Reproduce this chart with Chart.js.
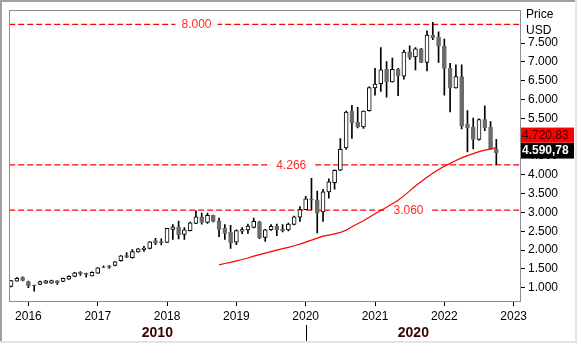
<!DOCTYPE html>
<html>
<head>
<meta charset="utf-8">
<script src="https://cdn.jsdelivr.net/npm/chart.js@4.4.1/dist/chart.umd.min.js"></script>
<style>
  html, body { margin: 0; padding: 0; background: #fff; }
  canvas { display: block; }
</style>
</head>
<body>
<canvas id="chart" width="577" height="343"></canvas>
<script>
// Monthly candles, first bar is October 2015
const firstYear = 2015;
const firstMonth = 10;

const opens = [1035, 1175, 1270, 1165, 1065, 1085, 1120, 1120, 1185, 1165, 1225, 1300, 1410, 1380, 1315, 1385, 1550, 1580, 1590, 1715,
  1855, 1795, 1950, 2010, 2040, 2250, 2225, 2205, 2550, 2620, 2415, 2515, 2705, 2885, 2735, 2920, 2770, 2575, 2470, 2210,
  2500, 2535, 2600, 2750, 2335, 2540, 2630, 2560, 2535, 2680, 2875, 3075, 3360, 3335, 3015, 3545, 3790, 4120, 4715, 5685,
  5395, 5270, 5705, 6310, 6420, 6805, 6470, 6805, 6620, 7270, 7130, 7350, 6990, 7715, 7670, 7420, 6830, 6310, 6610, 5340,
  5265, 4940, 5465, 5265, 4675];
const highs = [1195, 1265, 1285, 1175, 1070, 1175, 1195, 1200, 1190, 1255, 1315, 1405, 1430, 1385, 1420, 1535, 1580, 1590, 1695, 1850,
  1935, 2010, 2040, 2100, 2225, 2310, 2295, 2580, 2680, 2770, 2600, 2745, 3045, 2980, 2980, 2930, 2850, 2680, 2655, 2535,
  2595, 2690, 2850, 2760, 2550, 2680, 2690, 2680, 2720, 2900, 3155, 3430, 3905, 3570, 3615, 3890, 4130, 4965, 5695, 5845,
  5790, 5700, 6340, 6830, 7380, 7010, 7105, 6830, 7315, 7430, 7380, 7360, 7825, 8050, 7800, 7610, 6965, 6920, 6920, 5705,
  5510, 5485, 5835, 5415, 4940];
const lows = [1020, 1170, 1180, 1000, 910, 1080, 1110, 1115, 1085, 1160, 1220, 1290, 1325, 1280, 1310, 1380, 1530, 1510, 1580, 1705,
  1800, 1785, 1945, 1965, 2030, 2145, 2135, 2200, 2285, 2295, 2285, 2505, 2700, 2690, 2705, 2750, 2355, 2285, 2045, 2145,
  2435, 2445, 2585, 2305, 2230, 2520, 2380, 2480, 2505, 2670, 2760, 3070, 3075, 2455, 2760, 3380, 3615, 4110, 4675, 4965,
  5245, 5230, 5690, 6115, 6215, 6065, 6460, 6100, 6540, 7070, 6790, 6980, 6760, 7590, 6990, 6115, 5670, 6300, 5220, 4610,
  4690, 4920, 5175, 4680, 4266];
const closes = [1190, 1245, 1195, 1055, 1055, 1165, 1185, 1190, 1130, 1245, 1300, 1395, 1370, 1350, 1410, 1530, 1540, 1545, 1685, 1845,
  1810, 1960, 2030, 2055, 2215, 2180, 2195, 2575, 2620, 2410, 2540, 2725, 2885, 2735, 2920, 2760, 2550, 2445, 2195, 2515,
  2545, 2640, 2760, 2330, 2540, 2630, 2535, 2505, 2690, 2885, 3075, 3360, 3325, 2980, 3545, 3810, 4120, 4675, 5670, 5375,
  5270, 5695, 6320, 6410, 6790, 6470, 6805, 6620, 7265, 7120, 7350, 6990, 7715, 7645, 7420, 6830, 6310, 6610, 5290, 5245,
  4940, 5465, 5245, 4690, 4590.78];

// moving average, starts at the 37th bar
const maOffset = 36;
const maValues = [1608, 1642, 1674, 1714, 1748, 1788, 1840, 1880, 1920, 1959, 1999, 2039, 2073, 2113, 2158, 2210, 2263, 2316, 2369, 2398,
  2428, 2468, 2528, 2620, 2699, 2779, 2871, 2964, 3051, 3136, 3228, 3321, 3440, 3572, 3704, 3823, 3934, 4039, 4140, 4227,
  4304, 4378, 4449, 4510, 4563, 4616, 4655, 4682, 4720.83];

const levels = [8000, 4266, 3060];
const yearLabels = ['2016', '2017', '2018', '2019', '2020', '2021', '2022', '2023'];
const yTicks = [1000, 1500, 2000, 2500, 3000, 3500, 4000, 4500, 5000, 5500, 6000, 6500, 7000, 7500];
const decades = ['2010', '2020'];

const fmt0 = new Intl.NumberFormat('de-DE');
const fmt2 = new Intl.NumberFormat('de-DE', { minimumFractionDigits: 2, maximumFractionDigits: 2 });
const FONT = '"Liberation Sans", Arial, sans-serif';
const UP = '#ffffff';
const DOWN = '#6b6b6b';

function yearIndex(y) {
  return (Number(y) - firstYear) * 12 - (firstMonth - 1);
}

const candleUp = opens.map((o, i) => closes[i] >= o);

// where the level captions sit along the x axis (bar index)
const levelTagX = [32.1, 48.5, 68.8];

const datasets = [
  {
    type: 'bar',
    label: 'wicks',
    data: opens.map((o, i) => ({ x: i, y: [lows[i], highs[i]] })),
    backgroundColor: '#000',
    barThickness: 1,
    grouped: false,
    order: 3
  },
  {
    type: 'bar',
    label: 'bodies',
    data: opens.map((o, i) => ({ x: i, y: [o, closes[i]] })),
    backgroundColor: candleUp.map(u => u ? UP : DOWN),
    borderColor: candleUp.map(u => u ? '#000' : DOWN),
    borderWidth: 1,
    borderSkipped: false,
    barThickness: 4,
    grouped: false,
    order: 2
  },
  {
    type: 'line',
    label: 'ma',
    data: maValues.map((v, k) => ({ x: k + maOffset, y: v })),
    borderColor: '#ff0000',
    borderWidth: 1.2,
    pointRadius: 0,
    tension: 0,
    order: 1
  }
];

const levelStart = datasets.length;
levels.forEach(lv => {
  datasets.push({
    type: 'line',
    label: 'level ' + lv,
    data: [{ x: -5, y: lv }, { x: 95, y: lv }],
    borderColor: '#ff0000',
    borderWidth: 1.2,
    borderDash: [6, 3],
    pointRadius: 0,
    order: 4
  });
});

const overlay = {
  id: 'overlay',
  beforeDraw(chart) {
    const ctx = chart.ctx;
    ctx.save();
    ctx.fillStyle = '#fff';
    ctx.fillRect(0, 0, chart.width, chart.height);
    ctx.restore();
  },
  // caption of each level line, painted before the candles and the average
  afterDatasetDraw(chart, args) {
    const k = args.index - levelStart;
    if (k < 0) return;
    const ctx = chart.ctx;
    const xs = chart.scales.x, ys = chart.scales.y;
    const lv = levels[k];
    const txt = fmt0.format(lv);
    ctx.save();
    ctx.font = '12px ' + FONT;
    ctx.textAlign = 'center';
    ctx.textBaseline = 'middle';
    const cx = xs.getPixelForValue(levelTagX[k]);
    const cy = ys.getPixelForValue(lv);
    const w = ctx.measureText(txt).width;
    ctx.fillStyle = '#fff';
    ctx.fillRect(cx - w / 2 - 6, cy - 3, w + 12, 6);
    ctx.fillStyle = '#ff2a2a';
    ctx.fillText(txt, cx, cy + 0.5);
    ctx.restore();
  },
  afterDraw(chart) {
    const ctx = chart.ctx;
    const a = chart.chartArea;
    const xs = chart.scales.x, ys = chart.scales.y;
    ctx.save();

    // window frame
    ctx.fillStyle = '#a0a0a0';
    ctx.fillRect(0, 0, chart.width, 2);
    ctx.fillRect(0, 0, 2, chart.height);
    ctx.fillStyle = '#e4e4e4';
    ctx.fillRect(chart.width - 2, 0, 2, chart.height);
    ctx.fillRect(0, chart.height - 2, chart.width, 2);

    // plot frame
    ctx.strokeStyle = '#8c8c9c';
    ctx.lineWidth = 1;
    ctx.strokeRect(Math.round(a.left) + 0.5, Math.round(a.top) + 0.5,
      Math.round(a.right - a.left) - 1, Math.round(a.bottom - a.top) - 1);

    // axis caption
    ctx.fillStyle = '#000';
    ctx.font = '12px ' + FONT;
    ctx.textAlign = 'left';
    ctx.textBaseline = 'middle';
    ctx.fillText('Price', a.right + 5, 15);
    ctx.fillText('USD', a.right + 5, 31);

    // last value flags
    const last = closes[closes.length - 1];
    const lastMa = maValues[maValues.length - 1];
    const by = ys.getPixelForValue(last) - 2;
    const fx = Math.round(a.right);
    ctx.fillStyle = '#000';
    ctx.fillRect(fx, by - 8, 53, 16);
    ctx.fillStyle = '#ff0000';
    ctx.fillRect(fx, by - 23, 53, 15);
    ctx.font = 'bold 12px ' + FONT;
    ctx.fillStyle = '#fff';
    ctx.fillText(fmt2.format(last), fx + 1, by + 0.5);
    ctx.font = '12px ' + FONT;
    ctx.fillStyle = '#3a0000';
    ctx.fillText(fmt2.format(lastMa), fx + 1, by - 15);

    // decade row
    const split = xs.getPixelForValue(yearIndex(decades[1]));
    ctx.strokeStyle = '#000';
    ctx.beginPath();
    ctx.moveTo(Math.round(split) + 0.5, 325);
    ctx.lineTo(Math.round(split) + 0.5, 341);
    ctx.stroke();
    ctx.font = 'bold 14px ' + FONT;
    ctx.textAlign = 'center';
    ctx.fillText(decades[0], (a.left + split) / 2, 333);
    ctx.fillText(decades[1], (split + a.right) / 2, 333);
    ctx.restore();
  }
};

Chart.defaults.font.family = FONT;
Chart.defaults.font.size = 12;
Chart.defaults.color = '#000';

new Chart(document.getElementById('chart'), {
  type: 'bar',
  data: { datasets: datasets },
  options: {
    responsive: false,
    animation: false,
    layout: { padding: { left: 9, right: 4, top: 8, bottom: 5 } },
    plugins: { legend: { display: false }, tooltip: { enabled: false } },
    scales: {
      x: {
        type: 'linear',
        min: -0.36,
        max: 88.27,
        offset: false,
        grid: { drawOnChartArea: false, tickLength: 4, color: '#000', offset: false },
        border: { display: false },
        ticks: {
          autoSkip: false,
          maxRotation: 0,
          padding: 3,
          callback: v => String(firstYear + (v + firstMonth - 1) / 12)
        },
        afterBuildTicks: s => { s.ticks = yearLabels.map(y => ({ value: yearIndex(y) })); },
        afterFit: s => { s.height = 36; }
      },
      y: {
        type: 'linear',
        position: 'right',
        min: 619,
        max: 8375,
        grid: { drawOnChartArea: false, tickLength: 4, color: '#000' },
        border: { display: false },
        ticks: { padding: 3, callback: v => fmt0.format(v) },
        afterBuildTicks: s => { s.ticks = yTicks.map(v => ({ value: v })); },
        afterFit: s => { s.width = 52; }
      }
    }
  },
  plugins: [overlay]
});
</script>
</body>
</html>
